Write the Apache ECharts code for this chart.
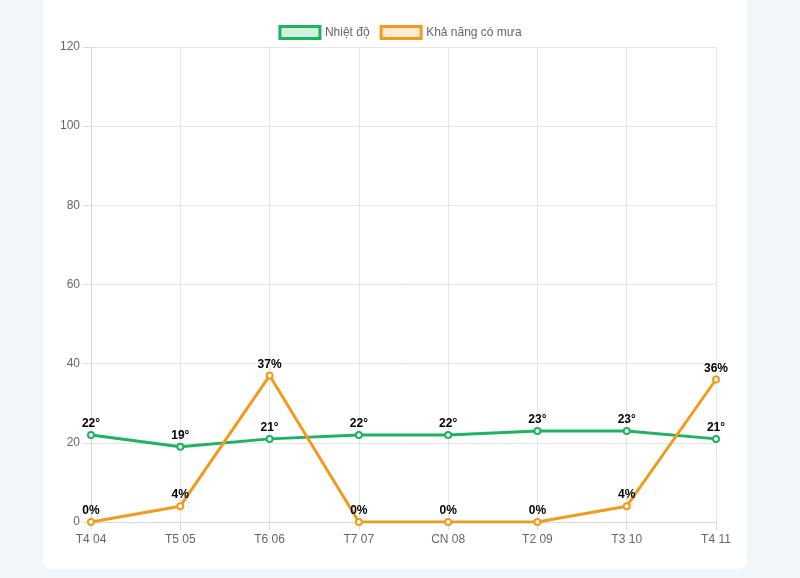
<!DOCTYPE html>
<html>
<head>
<meta charset="utf-8">
<script src="https://cdn.jsdelivr.net/npm/echarts@6/dist/echarts.min.js"></script>
<style>
  html, body { margin: 0; padding: 0; background: #f3f6f8; }
  #card { position: absolute; left: 43px; top: -20px; width: 704px; height: 589px; background: #fff; border-radius: 8px; }
  #chart { position: absolute; left: 0; top: 0; width: 800px; height: 578px; }
</style>
</head>
<body>
<div id="card"></div>
<div id="chart"></div>
<script>
// ngày trong tuần
var days = ['T4 04', 'T5 05', 'T6 06', 'T7 07', 'CN 08', 'T2 09', 'T3 10', 'T4 11'];
var temps = [22, 19, 21, 22, 22, 23, 23, 21];
var rain = [0, 4, 37, 0, 0, 0, 4, 36];

var green = '#1db35f';
var orange = '#f39a1e';
var font = 'Liberation Sans, Arial, sans-serif';

var myChart = echarts.init(document.getElementById('chart'));
var option = {
  textStyle: { fontFamily: font },
  legend: {
    top: 20,
    left: 'center',
    itemWidth: 40,
    itemHeight: 12,
    itemGap: 10,
    icon: 'rect',
    textStyle: { color: '#666', fontSize: 12, fontFamily: font },
    data: [
      { name: 'Nhiệt độ', itemStyle: { color: 'rgba(29,179,95,0.2)', borderColor: green, borderWidth: 3 } },
      { name: 'Khả năng có mưa', itemStyle: { color: 'rgba(243,154,30,0.2)', borderColor: orange, borderWidth: 3 } }
    ]
  },
  grid: { left: 91, right: 84, top: 47, bottom: 56, containLabel: false },
  xAxis: {
    type: 'category',
    boundaryGap: false,
    data: days,
    axisLine: { lineStyle: { color: '#d9d9d9' } },
    axisTick: { show: true, length: 8, alignWithLabel: true, lineStyle: { color: '#d9d9d9' } },
    axisLabel: { color: '#666', fontSize: 12, margin: 12, fontFamily: font },
    splitLine: { show: true, lineStyle: { color: '#e5e5e5' } }
  },
  yAxis: {
    type: 'value',
    min: 0,
    max: 120,
    interval: 20,
    axisLine: { show: true, lineStyle: { color: '#d9d9d9' } },
    axisTick: { show: true, length: 8, lineStyle: { color: '#d9d9d9' } },
    axisLabel: { color: '#666', fontSize: 12, margin: 11, fontFamily: font },
    splitLine: { show: true, lineStyle: { color: '#e5e5e5' } }
  },
  series: [
    {
      name: 'Nhiệt độ',
      type: 'line',
      data: temps,
      color: green,
      symbol: 'emptyCircle',
      symbolSize: 6,
      lineStyle: { width: 3, color: green },
      itemStyle: { color: green, borderWidth: 1.5 },
      label: {
        show: true, position: 'top', distance: 1,
        formatter: '{c}°', color: '#000', fontWeight: 'bold', fontSize: 12, fontFamily: font
      }
    },
    {
      name: 'Khả năng có mưa',
      type: 'line',
      data: rain,
      color: orange,
      symbol: 'emptyCircle',
      symbolSize: 6,
      lineStyle: { width: 3, color: orange },
      itemStyle: { color: orange, borderWidth: 1.5 },
      label: {
        show: true, position: 'top', distance: 1,
        formatter: '{c}%', color: '#000', fontWeight: 'bold', fontSize: 12, fontFamily: font
      }
    }
  ]
};
window.onresize = myChart.resize;
myChart.setOption(option);
</script>
</body>
</html>
